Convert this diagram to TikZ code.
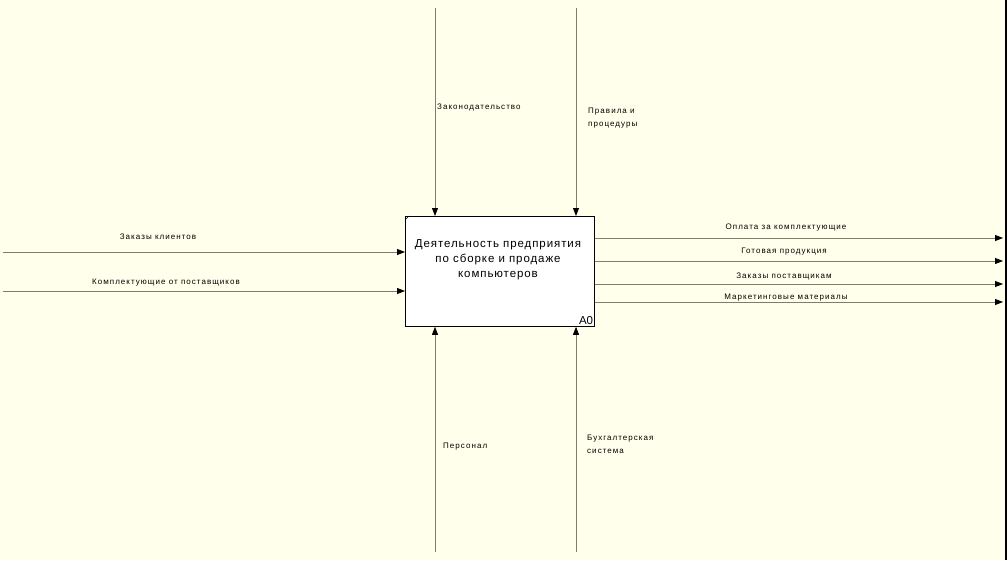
\documentclass[tikz,border=0pt]{standalone}
\usepackage{fontspec}
\setmainfont{Liberation Sans}
\newfontfamily\labfont[LetterSpace=13]{Liberation Sans}
\newfontfamily\boxfont[LetterSpace=8]{Liberation Sans}
\usetikzlibrary{arrows.meta}
\definecolor{bgc}{RGB}{255,255,235}
\definecolor{linec}{RGB}{125,125,110}
\tikzset{
  flow/.style={draw=linec, line width=0.8pt, -{Triangle[length=8pt,width=6pt,fill=black,color=black]}},
  lab/.style={font=\labfont\fontsize{8}{13}\selectfont, inner sep=0pt, align=left},
  clab/.style={font=\labfont\fontsize{8}{13}\selectfont, inner sep=0pt, align=center},
  actbox/.style={draw=black, line width=0.8pt, fill=white, minimum width=189pt, minimum height=110pt, inner sep=0pt, anchor=north west}
}
\begin{document}
\begin{tikzpicture}[x=1pt,y=-1pt]
\fill[bgc] (0,0) rectangle (1007,560);
\useasboundingbox (0,0) rectangle (1007,560);
\draw[black, line width=2pt] (1005.5,0) -- (1005.5,560);

\node[actbox] (box) at (405,216) {};
\draw[black, line width=0.5pt] (405,220) -- (409,216);
\node[font=\boxfont\fontsize{11.5}{15}\selectfont, align=center, inner sep=0pt] (title) at (498,260) {Деятельность предприятия\\по сборке и продаже\\компьютеров};
\node[font=\fontsize{11.5}{13}\selectfont, anchor=south east, inner sep=1.5pt] (a0) at (box.south east) {A0};

% controls
\coordinate (c1) at (435,8);
\coordinate (c2) at (576,8);
\draw[flow] (c1) -- (c1 |- box.north);
\draw[flow] (c2) -- (c2 |- box.north);
\node[lab, anchor=west] (lc1) at (437,108) {Законодательство};
\node[lab, anchor=west] (lc2) at (588,118.5) {Правила и\\процедуры};

% mechanisms
\coordinate (m1) at (435,552);
\coordinate (m2) at (576,552);
\draw[flow] (m1) -- (m1 |- box.south);
\draw[flow] (m2) -- (m2 |- box.south);
\node[lab, anchor=west] (lm1) at (443,447) {Персонал};
\node[lab, anchor=west] (lm2) at (587,444.5) {Бухгалтерская\\система};

% inputs
\coordinate (i1) at (3,252);
\coordinate (i2) at (3,291);
\draw[flow] (i1) -- (i1 -| box.west);
\draw[flow] (i2) -- (i2 -| box.west);
\node[clab] (li1) at (158,237) {Заказы клиентов};
\node[clab] (li2) at (166,283) {Комплектующие от поставщиков};

% outputs
\coordinate (o1) at (1003,238);
\coordinate (o2) at (1003,261);
\coordinate (o3) at (1003,284);
\coordinate (o4) at (1003,302);
\draw[flow] (o1 -| box.east) -- (o1);
\draw[flow] (o2 -| box.east) -- (o2);
\draw[flow] (o3 -| box.east) -- (o3);
\draw[flow] (o4 -| box.east) -- (o4);
\node[clab] (lo1) at (786,228) {Оплата за комплектующие};
\node[clab] (lo2) at (784,252) {Готовая продукция};
\node[clab] (lo3) at (784,277) {Заказы поставщикам};
\node[clab] (lo4) at (786,298) {Маркетинговые материалы};
\end{tikzpicture}
\end{document}
